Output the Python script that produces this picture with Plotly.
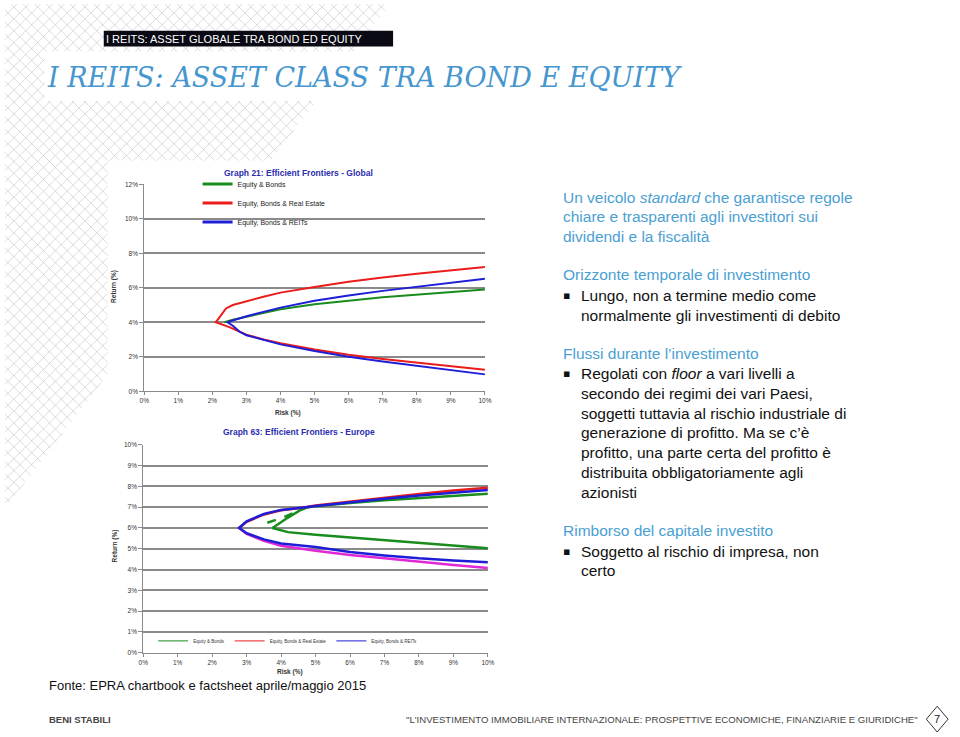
import plotly.graph_objects as go

W, H = 960, 737
def X(px): return px / W
def Y(py): return 1 - py / H

# ---------------- DATA ----------------
# Graph 21: Efficient Frontiers - Global (risk %, return %)
global_eb_risk = [10, 9, 8, 7, 6, 5, 4, 3, 2.6, 2.35]
global_eb_ret = [5.9, 5.75, 5.6, 5.45, 5.25, 5.05, 4.75, 4.35, 4.15, 4.0]
global_ebre_risk = [10, 9, 8, 7, 6, 5, 4, 3.5, 3, 2.6, 2.4, 2.25, 2.1,
                    2.5, 3, 3.5, 4, 5, 6, 7, 8, 9, 10]
global_ebre_ret = [7.2, 7.02, 6.82, 6.6, 6.35, 6.05, 5.72, 5.48, 5.22, 5.0, 4.8, 4.4, 4.0,
                   3.72, 3.28, 3.0, 2.78, 2.42, 2.12, 1.87, 1.65, 1.44, 1.25]
global_ebreit_risk = [10, 9, 8, 7, 6, 5, 4, 3, 2.5, 2.45,
                      2.6, 2.8, 3, 3.5, 4, 5, 6, 7, 8, 9, 10]
global_ebreit_ret = [6.52, 6.3, 6.05, 5.82, 5.55, 5.25, 4.85, 4.35, 4.05, 4.0,
                     3.8, 3.45, 3.25, 2.97, 2.72, 2.33, 2.0, 1.72, 1.48, 1.22, 0.98]

# Graph 63: Efficient Frontiers - Europe
europe_eb_risk = [10, 9, 8, 7, 6, 5, 4.65, 4.2, 3.75,
                  4.2, 5, 6, 7, 8, 9, 10]
europe_eb_ret = [7.65, 7.55, 7.45, 7.33, 7.2, 7.05, 6.95, 6.5, 6.0,
                 5.8, 5.68, 5.55, 5.42, 5.28, 5.13, 5.03]
europe_eb_dash_risk = [3.6, 4.05, 4.7]
europe_eb_dash_ret = [6.25, 6.5, 6.95]
europe_ebre_up_risk = [10, 9, 8, 7, 6, 5, 4.7, 4, 3.5, 3.0, 2.78]
europe_ebre_up_ret = [7.93, 7.8, 7.63, 7.45, 7.27, 7.08, 7.0, 6.85, 6.65, 6.3, 6.0]
europe_ebre_lo_risk = [2.78, 3, 3.5, 4, 5, 6, 7, 8, 9, 10]
europe_ebre_lo_ret = [6.0, 5.72, 5.38, 5.15, 4.9, 4.7, 4.55, 4.38, 4.22, 4.08]
europe_ebreit_risk = [10, 9, 8, 7, 6, 5, 4.6, 4, 3.5, 3, 2.78,
                      3, 3.5, 4, 5, 6, 7, 8, 9, 10]
europe_ebreit_ret = [7.83, 7.7, 7.56, 7.4, 7.24, 7.06, 6.97, 6.87, 6.67, 6.32, 6.0,
                     5.75, 5.45, 5.25, 5.08, 4.85, 4.68, 4.54, 4.44, 4.35]

series_names = ["Equity & Bonds", "Equity, Bonds & Real Estate", "Equity, Bonds & REITs"]

GREEN = "rgb(25,140,30)"
RED = "rgb(235,28,28)"
BLUE = "rgb(30,30,215)"
MAGENTA = "rgb(225,40,215)"

fig = go.Figure()

# ---- Global chart traces
fig.add_trace(go.Scatter(x=global_eb_risk, y=global_eb_ret, mode="lines",
                         line=dict(color=GREEN, width=2), showlegend=False,
                         xaxis="x", yaxis="y"))
fig.add_trace(go.Scatter(x=global_ebre_risk, y=global_ebre_ret, mode="lines",
                         line=dict(color=RED, width=2), showlegend=False,
                         xaxis="x", yaxis="y"))
fig.add_trace(go.Scatter(x=global_ebreit_risk, y=global_ebreit_ret, mode="lines",
                         line=dict(color=BLUE, width=2), showlegend=False,
                         xaxis="x", yaxis="y"))
# legend entries chart 1
for nm, col in zip(series_names, [GREEN, RED, BLUE]):
    fig.add_trace(go.Scatter(x=[None], y=[None], mode="lines", name=nm,
                             line=dict(color=col, width=3), legend="legend",
                             xaxis="x", yaxis="y"))

# ---- Europe chart traces
fig.add_trace(go.Scatter(x=europe_eb_risk, y=europe_eb_ret, mode="lines",
                         line=dict(color=GREEN, width=2.5), showlegend=False,
                         xaxis="x2", yaxis="y2"))
fig.add_trace(go.Scatter(x=europe_eb_dash_risk, y=europe_eb_dash_ret, mode="lines",
                         line=dict(color=GREEN, width=2.5, dash="dash"), showlegend=False,
                         xaxis="x2", yaxis="y2"))
fig.add_trace(go.Scatter(x=europe_ebre_lo_risk, y=europe_ebre_lo_ret, mode="lines",
                         line=dict(color=MAGENTA, width=2.5), showlegend=False,
                         xaxis="x2", yaxis="y2"))
fig.add_trace(go.Scatter(x=europe_ebre_up_risk, y=europe_ebre_up_ret, mode="lines",
                         line=dict(color=RED, width=2.5), showlegend=False,
                         xaxis="x2", yaxis="y2"))
fig.add_trace(go.Scatter(x=europe_ebreit_risk, y=europe_ebreit_ret, mode="lines",
                         line=dict(color=BLUE, width=2.5), showlegend=False,
                         xaxis="x2", yaxis="y2"))
for nm, col in zip(series_names, [GREEN, RED, BLUE]):
    fig.add_trace(go.Scatter(x=[None], y=[None], mode="lines", name=nm,
                             line=dict(color=col, width=1), legend="legend2",
                             xaxis="x2", yaxis="y2"))

TICKFONT = dict(family="Liberation Sans, Arial", size=6.5, color="#333")
GRID = "#8a8a8a"

common_x = dict(dtick=1, ticksuffix="%", showgrid=False, zeroline=False,
                showline=True, linecolor=GRID, linewidth=1, ticks="outside",
                ticklen=3, tickcolor=GRID, tickfont=TICKFONT, fixedrange=True)
common_y = dict(ticksuffix="%", showgrid=True, gridcolor=GRID, gridwidth=1.5,
                zeroline=False, showline=True, linecolor=GRID, linewidth=1,
                ticks="outside", ticklen=4, tickcolor=GRID, tickfont=TICKFONT,
                fixedrange=True)

fig.update_layout(
    width=W, height=H,
    margin=dict(l=0, r=0, t=0, b=0),
    paper_bgcolor="white", plot_bgcolor="rgba(0,0,0,0)",
    xaxis=dict(domain=[X(141), X(486)], range=[0, 10], anchor="y", **common_x),
    yaxis=dict(domain=[Y(391), Y(182)], range=[0, 12], dtick=2, anchor="x", **common_y),
    xaxis2=dict(domain=[X(140), X(489)], range=[0, 10], anchor="y2", **common_x),
    yaxis2=dict(domain=[Y(655), Y(445)], range=[0, 10], dtick=1, anchor="x2", **common_y),
    legend=dict(x=X(195), y=Y(201), xanchor="left", yanchor="middle",
                bgcolor="rgba(0,0,0,0)", font=dict(family="Liberation Sans, Arial", size=7, color="#222"),
                tracegroupgap=0, itemwidth=30),
    legend2=dict(orientation="h", x=X(150), y=Y(643), xanchor="left", yanchor="middle",
                 bgcolor="rgba(0,0,0,0)", font=dict(family="Liberation Sans, Arial", size=4.5, color="#333"),
                 itemwidth=30),
)

# ---------------- decoration shapes ----------------
shapes = []
# lattice pattern in top-left triangle
A, B = 390.0, 510.0
PAT = "rgba(185,185,185,0.5)"
step = 12
d = step
while d < B:
    t_min = max(0.0, (d / A - 1) / (1 / A - 1 / B))
    t_max = d
    if t_max > t_min:
        x0, y0 = d - t_min, t_min
        x1, y1 = d - t_max, t_max
        shapes.append(dict(type="line", xref="paper", yref="paper",
                           x0=X(x0), y0=Y(y0), x1=X(x1), y1=Y(y1),
                           line=dict(color=PAT, width=1), layer="below"))
    d += step
c = -B
while c < A:
    if c >= 0:
        sx, sy = c, 0.0
    else:
        sx, sy = 0.0, -c
    s = (1 - sx / A - sy / B) / (1 / A + 1 / B)
    if s > 0:
        shapes.append(dict(type="line", xref="paper", yref="paper",
                           x0=X(sx), y0=Y(sy), x1=X(sx + s), y1=Y(sy + s),
                           line=dict(color=PAT, width=1), layer="below"))
    c += step

# white panels
shapes.append(dict(type="rect", xref="paper", yref="paper", x0=X(40), x1=X(700), y0=Y(98), y1=Y(48),
                   fillcolor="white", line=dict(width=0), layer="below"))
shapes.append(dict(type="rect", xref="paper", yref="paper", x0=X(104), x1=X(500), y0=Y(682), y1=Y(158),
                   fillcolor="white", line=dict(width=0), layer="below"))
# header black box
shapes.append(dict(type="rect", xref="paper", yref="paper", x0=X(100), x1=X(393), y0=Y(43), y1=Y(27),
                   fillcolor="#0a0a14", line=dict(width=0), layer="below"))
# page number diamond
cx, cy, hw, hh = 944, 722, 11, 13
shapes.append(dict(type="path", xref="paper", yref="paper",
                   path=f"M {X(cx)} {Y(cy-hh)} L {X(cx+hw)} {Y(cy)} L {X(cx)} {Y(cy+hh)} L {X(cx-hw)} {Y(cy)} Z",
                   line=dict(color="#333", width=1), fillcolor="white"))
fig.update_layout(shapes=shapes)

# ---------------- texts ----------------
ann = []
def txt(x, y, s, size, color="#111", family="Liberation Sans, Arial", xanchor="left", **kw):
    ann.append(dict(x=X(x), y=Y(y), xref="paper", yref="paper", text=s, showarrow=False,
                    xanchor=xanchor, yanchor="middle", font=dict(size=size, color=color, family=family), **kw))

txt(100, 35, "I REITS: ASSET GLOBALE TRA BOND ED EQUITY", 11, color="white")
txt(41, 74, "<i>I REITS: ASSET CLASS TRA BOND E EQUITY</i>", 27, color="#4696cf",
    family="DejaVu Serif, Georgia, serif")

# chart titles and axis titles
TCOL = "rgb(45,45,175)"
txt(297, 171, "<b>Graph 21: Efficient Frontiers - Global</b>", 8.5, color=TCOL, xanchor="center")
txt(298, 432, "<b>Graph 63: Efficient Frontiers - Europe</b>", 8.5, color=TCOL, xanchor="center")
txt(287, 413, "<b>Risk (%)</b>", 6.5, color="#333", xanchor="center")
txt(289, 674, "<b>Risk (%)</b>", 6.5, color="#333", xanchor="center")
txt(111, 285, "<b>Return (%)</b>", 6.5, color="#333", xanchor="center", textangle=-90)
txt(111, 547, "<b>Return (%)</b>", 6.5, color="#333", xanchor="center", textangle=-90)

# right text block
HCOL = "#4aa0d2"
FS = 15.5
LX, BX, TX = 563, 563, 581
txt(LX, 195.5, "Un veicolo <i>standard</i> che garantisce regole", FS, color=HCOL)
txt(LX, 215, "chiare e trasparenti agli investitori sui", FS, color=HCOL)
txt(LX, 234.5, "dividendi e la fiscalità", FS, color=HCOL)
txt(LX, 273, "Orizzonte temporale di investimento", FS, color=HCOL)
body = [
    (294, "Lungo, non a termine medio come", True),
    (314, "normalmente gli investimenti di debito", False),
]
txt(LX, 352.5, "Flussi durante l’investimento", FS, color=HCOL)
body += [
    (373, "Regolati con <i>floor</i> a vari livelli a", True),
    (393, "secondo dei regimi dei vari Paesi,", False),
    (413, "soggetti tuttavia al rischio industriale di", False),
    (433, "generazione di profitto. Ma se c’è", False),
    (453, "profitto, una parte certa del profitto è", False),
    (473, "distribuita obbligatoriamente agli", False),
    (493, "azionisti", False),
]
txt(LX, 532, "Rimborso del capitale investito", FS, color=HCOL)
body += [
    (552.5, "Soggetto al rischio di impresa, non", True),
    (572, "certo", False),
]
for y, s, bullet in body:
    if bullet:
        txt(BX, y, "▪", 11, color="#111", family="DejaVu Sans")
    txt(TX, y, s, FS, color="#111")

# footer
txt(43, 688, "Fonte: EPRA chartbook e factsheet aprile/maggio 2015", 13, color="#111")
txt(43, 722, "<b>BENI STABILI</b>", 9.5, color="#444")
txt(927, 722, "\"L'INVESTIMENTO IMMOBILIARE INTERNAZIONALE: PROSPETTIVE ECONOMICHE, FINANZIARIE E GIURIDICHE\"",
    9.6, color="#444", family="Liberation Sans Narrow, Arial Narrow, Liberation Sans", xanchor="right")
txt(944, 722, "7", 11, color="#222", xanchor="center")

fig.update_layout(annotations=ann)
fig.write_html("out.html")
